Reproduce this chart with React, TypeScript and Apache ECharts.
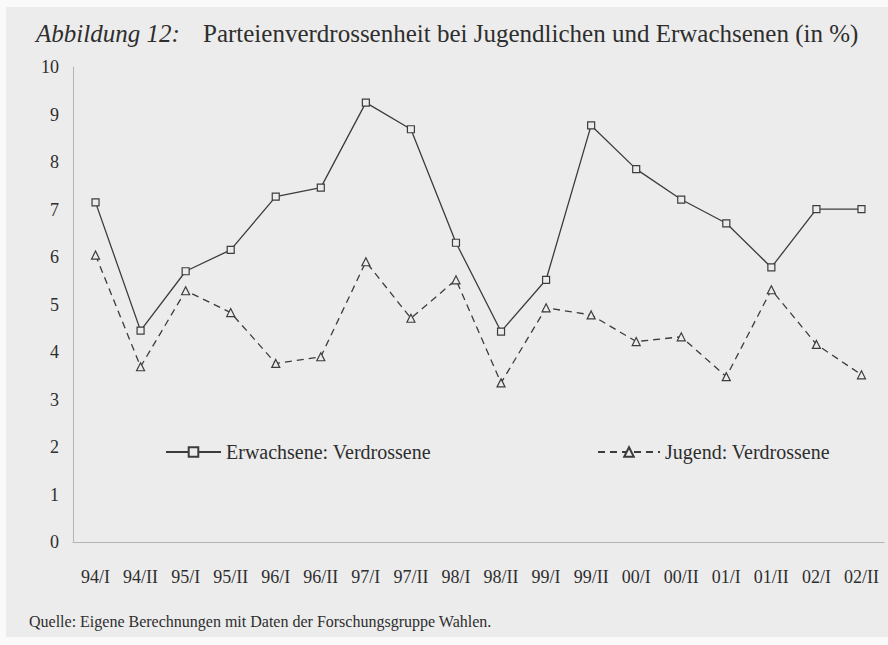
import React, { useEffect, useRef } from 'react';
import * as echarts from 'echarts';

const categories = ['94/I', '94/II', '95/I', '95/II', '96/I', '96/II', '97/I', '97/II', '98/I', '98/II', '99/I', '99/II', '00/I', '00/II', '01/I', '01/II', '02/I', '02/II'];
const erwachsene = [7.15, 4.45, 5.7, 6.15, 7.27, 7.46, 9.25, 8.69, 6.3, 4.43, 5.52, 8.77, 7.85, 7.21, 6.71, 5.78, 7.01, 7.01];
const jugend = [6.04, 3.69, 5.29, 4.83, 3.76, 3.9, 5.9, 4.71, 5.52, 3.35, 4.93, 4.78, 4.22, 4.32, 3.48, 5.31, 4.16, 3.52];
const seriesNames = ['Erwachsene: Verdrossene', 'Jugend: Verdrossene'];
const titleLabel = 'Abbildung 12:';
const titleText = 'Parteienverdrossenheit bei Jugendlichen und Erwachsenen (in %)';
const sourceText = 'Quelle: Eigene Berechnungen mit Daten der Forschungsgruppe Wahlen.';

const FONT = '"Liberation Serif", "DejaVu Serif", serif';
const INK = '#2e2e2e';
const LINE = '#3c3c3c';
const BG = '#ececec';

export default function App() {
  const ref = useRef<HTMLDivElement>(null);
  useEffect(() => {
    if (!ref.current) return;
    const chart = echarts.init(ref.current, undefined, { renderer: 'svg' });
    chart.setOption({
      animation: false,
      backgroundColor: BG,
      title: [
        {
          text: titleLabel,
          left: 31,
          top: 16,
          textStyle: { fontFamily: FONT, fontStyle: 'italic', fontWeight: 'normal', fontSize: 25, color: INK },
        },
        {
          text: titleText,
          left: 198,
          top: 16,
          textStyle: { fontFamily: FONT, fontWeight: 'normal', fontSize: 25, color: INK },
        },
        {
          text: sourceText,
          left: 24,
          top: 608,
          textStyle: { fontFamily: FONT, fontWeight: 'normal', fontSize: 16, color: INK },
        },
      ],
      graphic: [
        { type: 'rect', left: 0, top: 0, shape: { width: 888, height: 7 }, style: { fill: '#fafafa' }, silent: true },
        { type: 'rect', left: 0, top: 0, shape: { width: 6, height: 645 }, style: { fill: '#fafafa' }, silent: true },
        { type: 'rect', left: 0, top: 637, shape: { width: 888, height: 8 }, style: { fill: '#fafafa' }, silent: true },
      ],
      legend: [
        {
          data: [seriesNames[0]],
          left: 160,
          top: 437,
          itemWidth: 55,
          itemHeight: 12,
          itemGap: 5,
          textStyle: { fontFamily: FONT, fontSize: 20, color: INK },
        },
        {
          data: [seriesNames[1]],
          left: 592,
          top: 437,
          itemWidth: 62,
          itemHeight: 12,
          textStyle: { fontFamily: FONT, fontSize: 20, color: INK },
        },
      ],
      grid: { left: 73, right: 4, top: 67, bottom: 103, containLabel: false },
      xAxis: {
        type: 'category',
        data: categories,
        boundaryGap: true,
        axisLine: { lineStyle: { color: '#b4b4b4', width: 1 } },
        axisTick: { show: false },
        axisLabel: { fontFamily: FONT, fontSize: 18, color: INK, margin: 26, interval: 0 },
      },
      yAxis: {
        type: 'value',
        min: 0,
        max: 10,
        interval: 1,
        axisLine: { show: true, lineStyle: { color: '#b4b4b4', width: 1 } },
        axisTick: { show: false },
        splitLine: { show: false },
        axisLabel: { fontFamily: FONT, fontSize: 18, color: INK, margin: 14 },
      },
      series: [
        {
          name: seriesNames[0],
          type: 'line',
          data: erwachsene,
          symbol: 'rect',
          symbolSize: 7,
          lineStyle: { color: LINE, width: 1.3, type: 'solid' },
          itemStyle: { color: BG, borderColor: LINE, borderWidth: 1.2 },
        },
        {
          name: seriesNames[1],
          type: 'line',
          data: jugend,
          symbol: 'triangle',
          symbolSize: 8,
          lineStyle: { color: LINE, width: 1.3, type: [7, 5] },
          itemStyle: { color: BG, borderColor: LINE, borderWidth: 1.2 },
        },
      ],
    });
    return () => chart.dispose();
  }, []);
  return <div ref={ref} style={{ position: 'absolute', left: 0, top: 0, width: 888, height: 645 }} />;
}
